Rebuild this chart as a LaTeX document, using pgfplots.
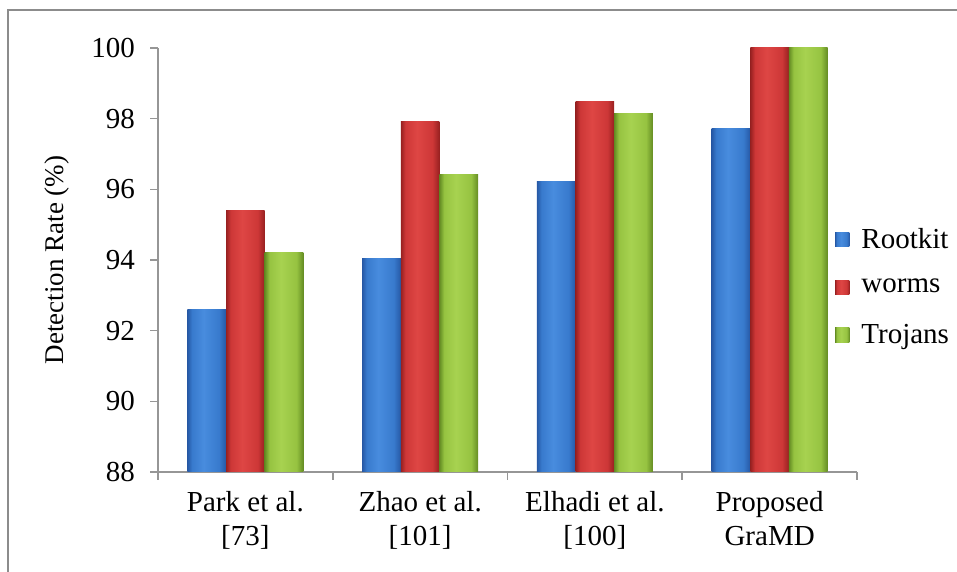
\documentclass[border=0pt]{standalone}
\usepackage{fontspec}
\setmainfont{Liberation Serif}
\usepackage{pgfplots}
\pgfplotsset{compat=1.18}

% bar colours: edge / body / highlight
\definecolor{bluedark}{RGB}{38,88,165}
\definecolor{bluemid}{RGB}{56,122,205}
\definecolor{bluelight}{RGB}{72,140,222}
\definecolor{reddark}{RGB}{150,32,32}
\definecolor{redmid}{RGB}{205,55,55}
\definecolor{redlight}{RGB}{222,70,68}
\definecolor{greendark}{RGB}{100,140,35}
\definecolor{greenmid}{RGB}{150,195,65}
\definecolor{greenlight}{RGB}{167,210,80}
\definecolor{framegray}{RGB}{140,140,140}
\definecolor{axisgray}{RGB}{150,150,150}

% cylinder-like horizontal shadings for the bars
\pgfdeclarehorizontalshading{blueshade}{100bp}{color(0bp)=(bluedark); color(25bp)=(bluedark); color(31bp)=(bluemid); color(46bp)=(bluelight); color(66bp)=(bluemid); color(75bp)=(bluedark); color(100bp)=(bluedark)}
\pgfdeclarehorizontalshading{redshade}{100bp}{color(0bp)=(reddark); color(25bp)=(reddark); color(31bp)=(redmid); color(46bp)=(redlight); color(66bp)=(redmid); color(75bp)=(reddark); color(100bp)=(reddark)}
\pgfdeclarehorizontalshading{greenshade}{100bp}{color(0bp)=(greendark); color(25bp)=(greendark); color(31bp)=(greenmid); color(46bp)=(greenlight); color(66bp)=(greenmid); color(75bp)=(greendark); color(100bp)=(greendark)}

\pgfplotsset{
  rootkit/.style={draw=none, shading=blueshade, bar shift=-19.35pt},
  worms/.style={draw=none, shading=redshade, bar shift=0pt},
  trojans/.style={draw=none, shading=greenshade, bar shift=19.35pt},
}

\begin{document}
\begin{tikzpicture}[font=\fontsize{14.5}{17.4}\selectfont]
\useasboundingbox (0,0) rectangle (478.5pt,286pt);
\begin{axis}[
  at={(79pt,50pt)}, anchor=south west,
  scale only axis,
  width=349.5pt, height=212pt,
  ybar, bar width=19.35pt,
  xmin=-0.5, xmax=3.5,
  ymin=88, ymax=100,
  ytick={88,90,...,100},
  xtick={0,1,2,3},
  xticklabels={{Park et al.\\{[73]}},{Zhao et al.\\{[101]}},{Elhadi et al.\\{[100]}},{Proposed\\GraMD}},
  minor xtick={-0.5,0.5,1.5,2.5,3.5},
  major x tick style={draw=none},
  axis lines*=left,
  axis line style={axisgray, line width=0.8pt},
  tick style={axisgray, line width=0.8pt},
  tick align=outside,
  major tick length=4pt, minor tick length=4pt,
  xticklabel style={align=center, yshift=-2pt},
  yticklabel style={xshift=-4pt},
  /pgf/number format/assume math mode=true,
  ylabel={Detection Rate (\%)},
  ylabel style={at={(axis description cs:-0.1445,0.5)}, anchor=center, font=\fontsize{13.5}{16}\selectfont},
  legend image code/.code={\fill[#1] (0pt,-3.6pt) rectangle (7.2pt,3.6pt);},
  legend style={draw=none, fill=none, at={(0.968,0.436)}, anchor=west,
    row sep=10pt, column sep=4pt, inner sep=0pt,
    nodes={inner sep=2pt, anchor=west}},
  legend cell align=left,
]
% each bar is its own plot so that its shading fits the bar
% Park et al. [73]
\addplot[rootkit] coordinates {(0,92.60)}; \addlegendentry{Rootkit}
\addplot[worms]   coordinates {(0,95.40)}; \addlegendentry{worms}
\addplot[trojans] coordinates {(0,94.20)}; \addlegendentry{Trojans}
% Zhao et al. [101]
\addplot[rootkit, forget plot] coordinates {(1,94.03)};
\addplot[worms,   forget plot] coordinates {(1,97.92)};
\addplot[trojans, forget plot] coordinates {(1,96.43)};
% Elhadi et al. [100]
\addplot[rootkit, forget plot] coordinates {(2,96.23)};
\addplot[worms,   forget plot] coordinates {(2,98.48)};
\addplot[trojans, forget plot] coordinates {(2,98.16)};
% Proposed GraMD
\addplot[rootkit, forget plot] coordinates {(3,97.72)};
\addplot[worms,   forget plot] coordinates {(3,100.0)};
\addplot[trojans, forget plot] coordinates {(3,100.0)};
\end{axis}
% surrounding frame (left and top edges)
\draw[framegray, line width=1pt] (4pt,-5pt) -- (4pt,281pt) -- (490pt,281pt);
\end{tikzpicture}
\end{document}
